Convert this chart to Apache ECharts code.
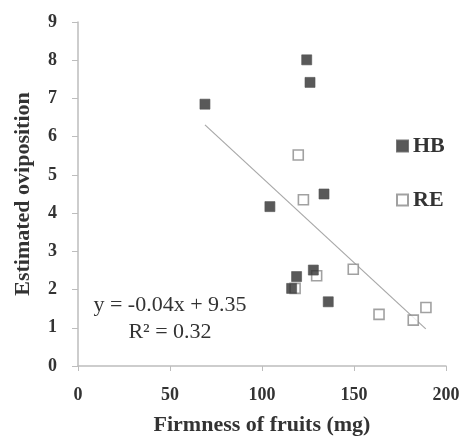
<!DOCTYPE html>
<html><head><meta charset="utf-8">
<script src="https://cdn.jsdelivr.net/npm/echarts@6/dist/echarts.min.js"></script>
<style>html,body{margin:0;padding:0;background:#fff}#c{width:460px;height:436px}</style>
</head><body><div id="c"></div>
<script>
const hbX = [69, 124.3, 126.1, 104.3, 133.7, 118.8, 127.9, 116.1, 136];
const hbY = [6.85, 8.01, 7.42, 4.17, 4.50, 2.34, 2.51, 2.03, 1.68];
const reX = [119.7, 122.5, 129.7, 118, 149.6, 163.6, 182.2, 189.1];
const reY = [5.52, 4.35, 2.36, 2.03, 2.53, 1.35, 1.20, 1.53];
const trendX = [69, 189];
const trendY = [6.31, 0.97];
const xTitle = 'Firmness of fruits (mg)';
const yTitle = 'Estimated oviposition';
const eqLines = ['y = -0.04x + 9.35', 'R² = 0.32'];

const zip = (a, b) => a.map((v, i) => [v, b[i]]);
const serif = 'Liberation Serif';
const chart = echarts.init(document.getElementById('c'));
chart.setOption({
  animation: false,
  backgroundColor: '#fff',
  grid: {left: 78, right: 14, top: 22, bottom: 70, outerBoundsMode: 'none', containLabel: false},
  xAxis: {
    type: 'value', min: 0, max: 200, interval: 50,
    name: xTitle, nameLocation: 'middle', nameGap: 48,
    nameTextStyle: {fontFamily: serif, fontWeight: 'bold', fontSize: 22, color: '#333'},
    axisLine: {lineStyle: {color: '#bdbdbd', width: 1.5}},
    axisTick: {show: true, length: 5, lineStyle: {color: '#bdbdbd'}},
    axisLabel: {fontFamily: serif, fontWeight: 'bold', fontSize: 18, color: '#333', margin: 20},
    splitLine: {show: false}
  },
  yAxis: {
    type: 'value', min: 0, max: 9, interval: 1,
    name: yTitle, nameLocation: 'middle', nameGap: 44,
    nameTextStyle: {fontFamily: serif, fontWeight: 'bold', fontSize: 22, color: '#333'},
    axisLine: {show: true, lineStyle: {color: '#bdbdbd', width: 1.5}},
    axisTick: {show: true, length: 6, lineStyle: {color: '#bdbdbd'}},
    axisLabel: {fontFamily: serif, fontWeight: 'bold', fontSize: 18, color: '#333', margin: 21},
    splitLine: {show: false}
  },
  legend: {
    orient: 'vertical', left: 396, top: 135, itemGap: 32, itemWidth: 11, itemHeight: 11,
    padding: 0,
    textStyle: {fontFamily: serif, fontWeight: 'bold', fontSize: 22, color: '#333'},
    data: [{name: 'HB', icon: 'rect'}, {name: 'RE', icon: 'rect'}]
  },
  series: [
    {type: 'line', data: zip(trendX, trendY), symbol: 'none', silent: true,
     lineStyle: {color: '#a8a8a8', width: 1.2}, z: 1},
    {name: 'HB', type: 'scatter', data: zip(hbX, hbY), symbol: 'rect', symbolSize: 10,
     itemStyle: {color: '#2f2f2f', borderColor: '#555', borderWidth: 0.8}, z: 3},
    {name: 'RE', type: 'scatter', data: zip(reX, reY), symbol: 'rect', symbolSize: 10,
     itemStyle: {color: '#ffffff', borderColor: '#8a8a8a', borderWidth: 1.6}, z: 2}
  ],
  graphic: [
    {type: 'text', x: 170, y: 305, style: {text: eqLines[0], font: '22px "Liberation Serif"', fill: '#333', align: 'center', verticalAlign: 'middle'}},
    {type: 'text', x: 170, y: 332, style: {text: eqLines[1], font: '22px "Liberation Serif"', fill: '#333', align: 'center', verticalAlign: 'middle'}}
  ]
});
</script></body></html>
